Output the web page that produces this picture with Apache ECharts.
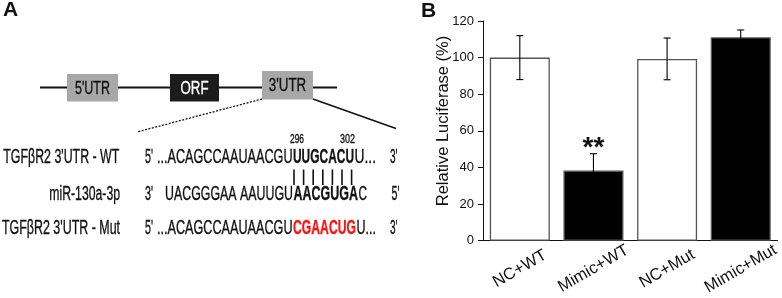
<!DOCTYPE html>
<html><head><meta charset="utf-8">
<script src="https://cdn.jsdelivr.net/npm/echarts@6/dist/echarts.min.js"></script>
<style>html,body{margin:0;padding:0;background:#fff}#c{width:782px;height:298px}</style>
</head><body><div id="c"></div>
<script>
// ---- Panel B data ----
const categories = ['NC+WT', 'Mimic+WT', 'NC+Mut', 'Mimic+Mut'];
const meanValues = [100, 38.3, 99.3, 111.1];
const errorValues = [12, 9.2, 11.4, 4];
const significance = ['', '**', '', ''];
const barFill = ['#ffffff', '#000000', '#ffffff', '#000000'];
const yMin = 0, yMax = 120, yStep = 20;
const yTitle = 'Relative Luciferase (%)';

// ---- Panel A text ----
const rowLabels = ['TGFβR2 3\'UTR - WT', 'miR-130a-3p', 'TGFβR2 3\'UTR - Mut'];
const seqWT = ['5\'', '...ACAGCCAAUAACGU', 'UUGCACU', 'U...', '3\''];
const seqMiR = ['3\'', 'UACGGGAA AAUUGU', 'AACGUGA', 'C', '5\''];
const seqMut = ['5\'', '...ACAGCCAAUAACGU', 'CGAACUG', 'U...', '3\''];
const sitePositions = ['296', '302'];
const geneParts = ['5\'UTR', 'ORF', '3\'UTR'];

const FF = '"Liberation Sans", Arial, sans-serif';
const FN = '"Liberation Sans Narrow", "Arial Narrow", "Liberation Sans", Arial, sans-serif';
const mctx = document.createElement('canvas').getContext('2d');
function fit(text, x, y, w, size, opts) {
  opts = opts || {};
  const weight = opts.bold ? 'bold' : 'normal';
  mctx.font = weight + ' ' + size + 'px ' + FN;
  const mw = mctx.measureText(text).width || 1;
  const align = opts.align || 'left';
  const col = opts.color || '#111';
  return {
    type: 'text', x: x, y: y, scaleX: w / mw, z: 10,
    style: {
      text: text, fontSize: size, fontFamily: FN, fontWeight: weight,
      fill: col, stroke: col, lineWidth: opts.bold ? 0.3 : 0.35,
      align: align, textAlign: align,
      verticalAlign: 'middle', textVerticalAlign: 'middle'
    }
  };
}

const TS = 19.5;
const g = [];
// panel letters
g.push({type:'text', x:3, y:10, style:{text:'A', fontSize:21, fontWeight:'bold', fontFamily:FF, fill:'#111', verticalAlign:'middle', textVerticalAlign:'middle'}});
g.push({type:'text', x:421, y:11, style:{text:'B', fontSize:21, fontWeight:'bold', fontFamily:FF, fill:'#111', verticalAlign:'middle', textVerticalAlign:'middle'}});

// gene schematic
g.push({type:'line', shape:{x1:40, y1:87.5, x2:337, y2:87.5}, style:{stroke:'#111', lineWidth:2}});
g.push({type:'rect', shape:{x:67, y:74, width:51, height:27.5}, style:{fill:'#a8a8a8'}});
g.push({type:'rect', shape:{x:170, y:74, width:49, height:27.5}, style:{fill:'#1c1c1c'}});
g.push({type:'rect', shape:{x:262, y:71, width:51, height:28.5}, style:{fill:'#a8a8a8'}});
g.push(fit(geneParts[0], 92.5, 88.5, 35, 18.5, {align:'center'}));
g.push(fit(geneParts[1], 194.5, 88.5, 28, 18.5, {align:'center', color:'#fff'}));
g.push(fit(geneParts[2], 287.5, 86, 37.5, 18.5, {align:'center'}));
g.push({type:'line', shape:{x1:262, y1:99, x2:137, y2:132}, style:{stroke:'#111', lineWidth:1.3, lineDash:[2,1.5]}});
g.push({type:'line', shape:{x1:313, y1:99, x2:396, y2:128.5}, style:{stroke:'#111', lineWidth:1.6}});

// site numbers
g.push(fit(sitePositions[0], 297, 140, 14, 12, {align:'center'}));
g.push(fit(sitePositions[1], 347.5, 140, 15, 12, {align:'center'}));

// row labels
const rowY = [158, 194.5, 228.5];
g.push(fit(rowLabels[0], 119.3, rowY[0], 116, TS, {align:'right'}));
g.push(fit(rowLabels[1], 120, rowY[1], 70.7, TS, {align:'right'}));
g.push(fit(rowLabels[2], 120, rowY[2], 118, TS, {align:'right'}));

// sequences
function seqRow(seq, y, spans, midColor) {
  seq.forEach(function (s, i) {
    const sp = spans[i];
    g.push(fit(s, sp[0], y, sp[1] - sp[0], TS, {bold: i === 2, color: i === 2 ? midColor : '#111'}));
  });
}
seqRow(seqWT, rowY[0], [[145,153],[157,292.5],[293,354],[354.5,376],[390,397.5]], '#111');
seqRow(seqMiR, rowY[1], [[145,153],[165,293],[293.5,358],[358.5,367],[391.5,399.5]], '#111');
seqRow(seqMut, rowY[2], [[145,153],[157,292.5],[293,356],[356.5,376],[390,397.5]], '#ff1010');

// pairing bars
for (let k = 0; k < 7; k++) {
  const x = 294 + k * 9.6;
  g.push({type:'line', shape:{x1:x, y1:169.5, x2:x, y2:185}, style:{stroke:'#111', lineWidth:1.6}});
}

// y axis title
g.push({type:'text', x:443, y:121, rotation:Math.PI/2, style:{text:yTitle, fontSize:16.5, fontFamily:FF, fill:'#111', align:'center', textAlign:'center', verticalAlign:'middle', textVerticalAlign:'middle'}});

const chart = echarts.init(document.getElementById('c'), null, {renderer:'canvas'});
chart.setOption({
  animation: false,
  backgroundColor: '#fff',
  grid: {left: 483, top: 21, width: 297, height: 219.7, containLabel: false},
  xAxis: {
    type: 'category', data: categories,
    axisLine: {lineStyle: {color: '#111', width: 1}},
    axisTick: {show: false},
    axisLabel: {rotate: 30, align: 'center', verticalAlign: 'middle', margin: 28, color: '#111', fontSize: 16.5, fontFamily: FF, interval: 0}
  },
  yAxis: {
    type: 'value', min: yMin, max: yMax, interval: yStep,
    axisLine: {show: true, lineStyle: {color: '#111', width: 1}},
    axisTick: {show: true, length: 5, lineStyle: {color: '#111'}},
    splitLine: {show: false},
    axisLabel: {margin: 9, color: '#111', fontSize: 13, fontFamily: FF}
  },
  series: [
    {
      type: 'bar', barWidth: 60,
      data: meanValues.map(function (v, i) {
        return {value: v, itemStyle: {color: barFill[i], borderColor: '#555', borderWidth: 1.3}};
      }),
      label: {
        show: true, position: 'top', distance: 8,
        formatter: function (p) { return significance[p.dataIndex]; },
        fontSize: 28, fontWeight: 'bold', fontFamily: FF, color: '#111'
      }
    },
    {
      type: 'custom', z: 5,
      data: meanValues.map(function (v, i) { return [i, v, errorValues[i]]; }),
      renderItem: function (params, api) {
        const i = api.value(0), m = api.value(1), e = api.value(2);
        const t = api.coord([i, m + e]);
        const b = api.coord([i, m - e]);
        const hw = 3.5;
        const st = {stroke: '#000', lineWidth: 1.1};
        return {type: 'group', children: [
          {type: 'line', shape: {x1: t[0], y1: t[1], x2: b[0], y2: b[1]}, style: st},
          {type: 'line', shape: {x1: t[0] - hw, y1: t[1], x2: t[0] + hw, y2: t[1]}, style: st},
          {type: 'line', shape: {x1: b[0] - hw, y1: b[1], x2: b[0] + hw, y2: b[1]}, style: st}
        ]};
      }
    }
  ],
  graphic: {elements: g}
});
</script></body></html>
